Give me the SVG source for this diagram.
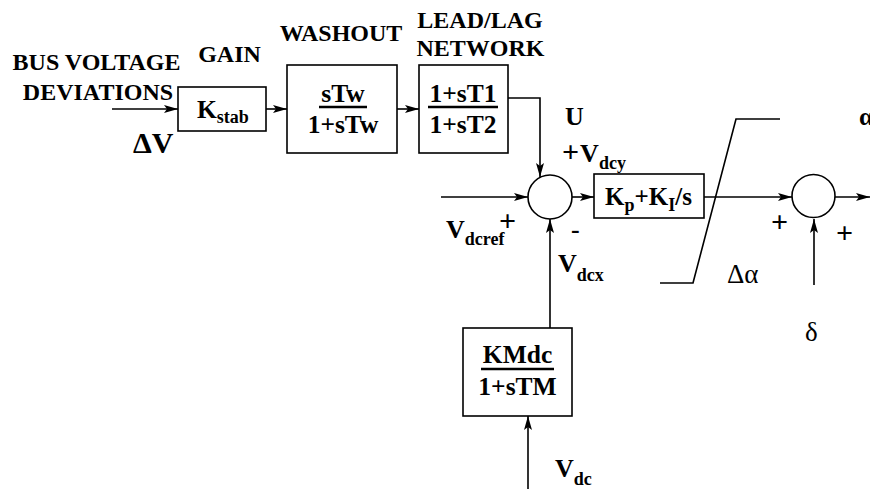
<svg xmlns="http://www.w3.org/2000/svg" width="870" height="489" viewBox="0 0 870 489">
<defs>
<marker id="ah" viewBox="0 0 14 8" refX="14" refY="4" markerWidth="14" markerHeight="8" markerUnits="userSpaceOnUse" orient="auto">
<path d="M0,0 L14,4 L0,8 L3,4 z" fill="#000"/>
</marker>
<style>
.t{font-family:"Liberation Serif","Times New Roman",serif;font-weight:bold;fill:#000}
.lbl{font-size:24px}
.bx{font-size:25.5px}
.sub{font-size:18px}
.pl{font-size:30px}
.box{fill:#fff;stroke:#000;stroke-width:1.6}
.sum{fill:#fff;stroke:#000;stroke-width:1.6}
.bar{stroke:#000;stroke-width:2.6}
.ln{fill:none;stroke:#000;stroke-width:1.6}
.ar{fill:none;stroke:#000;stroke-width:1.6;marker-end:url(#ah)}
.sym{font-family:"Liberation Serif","DejaVu Serif",serif;font-weight:normal;fill:#000}
</style>
</defs>
<rect width="870" height="489" fill="#fff"/>

<g id="connectors">
<path class="ar" d="M112,109 H178"/>
<path class="ar" d="M266,109 H287"/>
<path class="ar" d="M397,109 H419"/>
<path class="ar" d="M508,98 H540 V177"/>
<path class="ar" d="M441,197 H528"/>
<path class="ar" d="M572,197 H594"/>
<path class="ar" d="M704,197 H792"/>
<path class="ar" d="M835,197 H870"/>
<path class="ar" d="M814,285 V219"/>
<path class="ar" d="M550,328 V219"/>
<path class="ar" d="M528,489 V416"/>
</g>

<g id="input-label">
<text class="t lbl" x="96.5" y="70" text-anchor="middle">BUS VOLTAGE</text>
<text class="t lbl" x="98" y="100" text-anchor="middle">DEVIATIONS</text>
<text class="t" x="133" y="153" font-size="30">ΔV</text>
</g>

<g id="gain">
<text class="t lbl" x="229.5" y="62" text-anchor="middle">GAIN</text>
<rect class="box" x="178" y="87" width="88" height="44"/>
<text class="t bx" x="197" y="118">K<tspan class="sub" dy="5">stab</tspan></text>
</g>

<g id="washout">
<text class="t lbl" x="341" y="41" text-anchor="middle">WASHOUT</text>
<rect class="box" x="287" y="65" width="110" height="88"/>
<text class="t bx" x="343" y="102" text-anchor="middle">sTw</text>
<line class="bar" x1="319" y1="107" x2="367" y2="107"/>
<text class="t bx" x="343" y="133" text-anchor="middle">1+sTw</text>
</g>

<g id="leadlag">
<text class="t lbl" x="480" y="28" text-anchor="middle">LEAD/LAG</text>
<text class="t lbl" x="480.5" y="56" text-anchor="middle">NETWORK</text>
<rect class="box" x="419" y="65" width="89" height="88"/>
<text class="t bx" x="463" y="102" text-anchor="middle">1+sT1</text>
<line class="bar" x1="428" y1="107" x2="498" y2="107"/>
<text class="t bx" x="463" y="133" text-anchor="middle">1+sT2</text>
</g>

<g id="summer1">
<circle class="sum" cx="550" cy="197" r="22"/>
<text class="t" x="565" y="125" font-size="26">U</text>
<text class="t" x="562" y="162" font-size="26"><tspan font-size="30">+</tspan><tspan dx="1">V</tspan><tspan class="sub" dy="7">dcy</tspan></text>
<text class="t" x="446" y="238" font-size="26">V<tspan class="sub" dy="7">dcref</tspan></text>
<text class="t pl" x="499" y="231">+</text>
<text class="t" x="571" y="238" font-size="26">-</text>
<text class="t" x="558" y="272" font-size="26">V<tspan class="sub" dy="9">dcx</tspan></text>
</g>

<g id="pi">
<rect class="box" x="594" y="174" width="110" height="44"/>
<text class="t" x="605" y="205" font-size="25">K<tspan class="sub" dy="6">p</tspan><tspan dy="-6">+K</tspan><tspan class="sub" dy="6">I</tspan><tspan dy="-6">/s</tspan></text>
</g>

<g id="limiter">
<polyline class="ln" points="660,283 693,283 736,119 780,119"/>
<text class="sym" x="727" y="283" font-size="27">Δα</text>
</g>

<g id="summer2">
<circle class="sum" cx="813.5" cy="196" r="21.5"/>
<text class="t pl" x="771" y="232">+</text>
<text class="t pl" x="836" y="243">+</text>
<text class="sym" x="805" y="341" font-size="27">δ</text>
<text class="t" x="859" y="125" font-size="26">α</text>
</g>

<g id="kmdc">
<rect class="box" x="463" y="328" width="109" height="88"/>
<text class="t bx" x="517.5" y="363" text-anchor="middle">KMdc</text>
<line class="bar" x1="481" y1="369" x2="554" y2="369"/>
<text class="t bx" x="517.5" y="395" text-anchor="middle">1+sTM</text>
<text class="t" x="555" y="477" font-size="26">V<tspan class="sub" dy="8">dc</tspan></text>
</g>
</svg>
